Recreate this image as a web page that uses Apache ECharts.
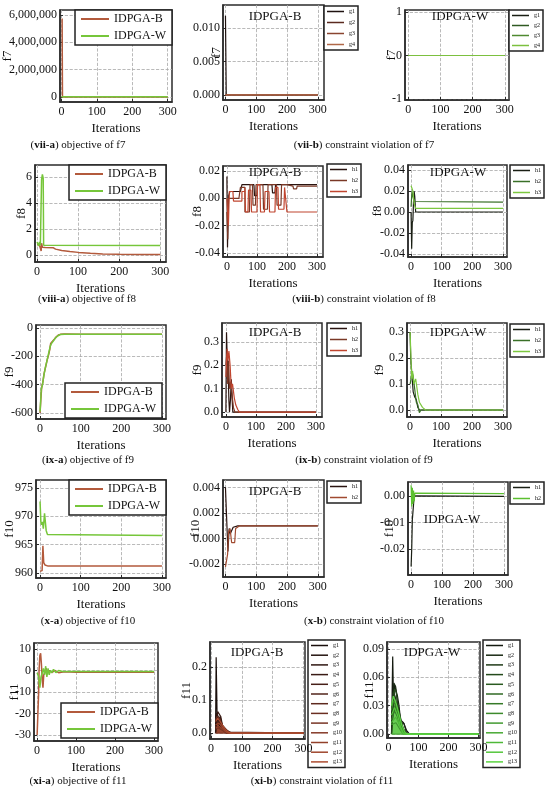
<!DOCTYPE html>
<html>
<head>
<meta charset="utf-8">
<script src="https://cdn.jsdelivr.net/npm/echarts@6/dist/echarts.min.js"></script>
<style>
html,body{margin:0;padding:0;background:#fff;}
#chart{width:550px;height:799px;}
</style>
</head>
<body>
<div id="chart"></div>
<script>
// ---- data (iteration, value) ----
var iterTicks = [0, 100, 200, 300];

// (vii) f7
var f7ObjTicks = [0, 2000000, 4000000, 6000000];
var f7ObjB = [[2, 5750000], [3, 0], [300, 0]];
var f7ObjW = [[0, 15000], [300, 15000]];
var f7VioBTicks = [0, 0.005, 0.010];
var f7VioB1 = [[0, 0.0118], [1.5, 0.0118], [2.5, 0], [300, 0]];
var f7VioB2 = [[0, 0], [300, 0]];
var f7VioB3 = [[0, 0], [300, 0]];
var f7VioB4 = [[0, 0], [300, 0]];
var f7VioWTicks = [-1, 0, 1];
var f7VioW1 = [[0, 0], [300, 0]];
var f7VioW2 = [[0, 0], [300, 0]];
var f7VioW3 = [[0, 0], [300, 0]];
var f7VioW4 = [[0, 0], [300, 0]];

// (viii) f8
var f8ObjTicks = [0, 2, 4, 6];
var f8ObjB = [[0, 0.8], [4, 0.9], [6, 0.75], [8, 0.9], [10, 0.3], [11, 0.9], [13, 0.6], [20, 0.58], [40, 0.55], [45, 0.45], [60, 0.35], [80, 0.27], [100, 0.2], [130, 0.13], [160, 0.08], [200, 0.05], [250, 0.03], [300, 0.03]];
var f8ObjW = [[0, 1.0], [4, 0.7], [6, 1.0], [8, 0.75], [10, 0.8], [11, 5.8], [13, 6.2], [15, 5.9], [16, 0.75], [18, 0.72], [300, 0.72]];
var f8VioBTicks = [-0.04, -0.02, 0, 0.02];
var f8VioB1 = [[0, 0.016], [2, -0.036], [4, -0.012], [6, 0.002], [10, 0.005], [45, 0.005], [50, 0.01], [90, 0.01], [92, 0.002], [100, 0.002], [102, 0.01], [150, 0.01], [152, 0.004], [160, 0.004], [162, 0.01], [300, 0.01]];
var f8VioB2 = [[0, -0.01], [3, -0.03], [5, 0.0], [40, 0.0], [45, 0.008], [60, -0.01], [75, -0.01], [77, 0.01], [85, 0.01], [87, -0.005], [95, -0.005], [97, 0.01], [120, 0.01], [122, -0.008], [135, -0.008], [137, 0.01], [165, 0.01], [167, -0.005], [180, -0.005], [182, 0.01], [200, 0.01], [202, 0.009], [220, 0.009], [222, 0.007], [232, 0.007], [234, 0.009], [300, 0.009]];
var f8VioB3 = [[0, 0.0], [5, -0.02], [8, 0.005], [20, 0.005], [22, -0.002], [50, 0.005], [60, 0.008], [62, -0.01], [70, -0.01], [72, 0.006], [80, 0.006], [82, -0.01], [100, -0.01], [102, 0.01], [110, 0.01], [112, -0.01], [125, -0.01], [127, 0.005], [140, 0.005], [142, -0.01], [160, -0.01], [162, 0.008], [170, 0.008], [172, -0.008], [190, -0.008], [192, 0.008], [198, 0.008], [200, -0.01], [300, -0.01]];
var f8VioWTicks = [-0.04, -0.02, 0, 0.02, 0.04];
var f8VioW1 = [[0, 0.0], [2, -0.035], [4, -0.01], [6, -0.008], [8, 0.01], [10, 0.02], [12, 0.015], [15, 0.0], [300, 0.0]];
var f8VioW2 = [[0, 0.005], [3, 0.02], [6, 0.015], [10, 0.01], [15, 0.0095], [300, 0.0095]];
var f8VioW3 = [[0, 0.025], [3, 0.026], [6, 0.02], [10, 0.008], [15, 0.0035], [300, 0.0035]];

// (ix) f9
var f9ObjTicks = [-600, -400, -200, 0];
var f9ObjB = [[0, -600], [2, -500], [4, -420], [7, -380], [10, -320], [14, -270], [18, -220], [21, -190], [24, -150], [26, -110], [30, -100], [35, -80], [40, -62], [45, -50], [50, -45], [60, -42], [100, -44], [300, -45]];
var f9ObjW = [[0, -590], [3, -430], [6, -400], [9, -340], [13, -280], [17, -230], [21, -180], [25, -130], [28, -110], [33, -90], [38, -70], [44, -55], [50, -46], [60, -44], [300, -45]];
var f9VioTicks = [0, 0.1, 0.2, 0.3];
var f9VioB1 = [[0, 0.0], [2, 0.34], [5, 0.2], [8, 0.15], [10, 0.05], [12, 0.0], [15, 0.05], [18, 0.14], [21, 0.05], [23, 0.0], [300, 0.0]];
var f9VioB2 = [[0, 0.2], [3, 0.25], [6, 0.12], [9, 0.22], [12, 0.1], [16, 0.13], [20, 0.08], [25, 0.02], [30, 0.0], [300, 0.0]];
var f9VioB3 = [[0, 0.15], [4, 0.27], [7, 0.22], [10, 0.26], [14, 0.2], [18, 0.1], [22, 0.12], [28, 0.06], [33, 0.03], [40, 0.01], [45, 0.0], [300, 0.0]];
var f9VioW1 = [[0, 0.3], [2, 0.2], [5, 0.15], [8, 0.1], [10, 0.07], [15, 0.05], [20, 0.04], [25, 0.01], [30, 0.0], [300, 0.0]];
var f9VioW2 = [[0, 0.1], [3, 0.12], [6, 0.15], [10, 0.13], [15, 0.08], [20, 0.03], [25, 0.02], [30, -0.01], [35, 0.0], [300, 0.0]];
var f9VioW3 = [[0, 0.3], [4, 0.3], [5, 0.12], [8, 0.15], [12, 0.1], [18, 0.12], [25, 0.06], [30, 0.03], [40, 0.01], [50, 0.0], [300, 0.0]];

// (x) f10
var f10ObjTicks = [960, 965, 970, 975];
var f10ObjB = [[0, 960.3], [5, 960.4], [7, 964.8], [9, 961.8], [12, 961.4], [20, 961.2], [300, 961.2]];
var f10ObjW = [[0, 972.6], [2, 969], [4, 968.5], [6, 969], [8, 967.8], [11, 970.5], [13, 970.4], [15, 967.5], [18, 966.8], [22, 966.6], [300, 966.6]];
var f10VioBTicks = [-0.002, 0, 0.002, 0.004];
var f10VioB1 = [[0, 0.004], [6, 0.004], [8, -0.001], [12, 0.0008], [16, 0.0004], [20, 0.0004], [25, 0.0009], [40, 0.001], [300, 0.001]];
var f10VioB2 = [[0, -0.0022], [5, -0.0022], [7, -0.0012], [10, 0.0005], [15, 0.0008], [20, -0.0003], [30, -0.0003], [33, 0.0008], [45, 0.001], [300, 0.001]];
var f10VioWTicks = [-0.03, -0.02, -0.01, 0];
var f10VioW1 = [[0, -0.0265], [2, -0.02], [4, -0.009], [6, -0.0085], [8, -0.003], [10, 0.0], [15, -0.0002], [300, -0.0002]];
var f10VioW2 = [[0, 0.004], [2, -0.004], [4, 0.003], [6, -0.003], [8, 0.002], [10, -0.002], [12, 0.001], [14, 0.0008], [300, 0.0008]];

// (xi) f11
var f11ObjTicks = [-30, -20, -10, 0, 10];
var f11ObjB = [[0, -30], [2, -20], [4, -10], [5, 0], [7, 7], [9, 8], [11, 3], [13, -4], [15, -8], [17, -2], [20, -1], [23, 1], [27, -1], [32, 0], [38, -1], [45, 0], [55, -1], [70, -0.6], [100, -0.8], [300, -0.8]];
var f11ObjW = [[0, -1], [4, -3], [7, -8], [10, -3], [13, -1], [16, 1], [19, -2], [22, 2], [25, -3], [28, 1], [31, -2], [34, 0], [38, -1], [42, 0.5], [48, -1], [55, 0], [65, -0.5], [300, -0.5]];
var f11VioBTicks = [0, 0.1, 0.2];
var f11VioB = [
  [[15, 0.0], [17, 0.23], [20, 0.05], [25, 0.03], [30, 0.02], [40, 0.01], [50, 0.0], [300, 0.0]],
  [[15, 0.0], [18, 0.06], [22, 0.065], [28, 0.04], [35, 0.02], [45, 0.005], [55, 0.0], [300, 0.0]],
  [[15, 0.05], [20, 0.06], [25, 0.04], [30, 0.05], [35, 0.03], [40, 0.015], [50, 0.005], [60, 0.0], [300, 0.0]],
  [[15, 0.0], [22, 0.065], [26, 0.06], [32, 0.05], [38, 0.02], [45, 0.01], [55, 0.0], [300, 0.0]],
  [[15, 0.03], [20, 0.04], [30, 0.03], [40, 0.02], [50, 0.01], [60, 0.003], [65, 0.0], [300, 0.0]],
  [[15, 0.02], [25, 0.035], [35, 0.025], [45, 0.015], [55, 0.005], [70, 0.0], [300, 0.0]],
  [[15, 0.01], [25, 0.02], [35, 0.015], [50, 0.008], [60, 0.0], [300, 0.0]],
  [[15, 0.04], [20, 0.05], [28, 0.045], [34, 0.03], [40, 0.02], [52, 0.006], [60, 0.0], [300, 0.0]],
  [[15, 0.02], [30, 0.012], [45, 0.004], [55, 0.0], [300, 0.0]],
  [[15, 0.0], [300, 0.0]],
  [[15, 0.015], [28, 0.02], [40, 0.01], [50, 0.002], [60, 0.0], [300, 0.0]],
  [[15, 0.025], [25, 0.03], [35, 0.02], [45, 0.008], [55, 0.0], [300, 0.0]],
  [[15, 0.035], [22, 0.045], [30, 0.035], [40, 0.02], [48, 0.01], [58, 0.002], [65, 0.0], [300, 0.0]]
];
var f11VioWTicks = [0, 0.03, 0.06, 0.09];
var f11VioW = [
  [[10, 0.0], [14, 0.082], [17, 0.03], [20, 0.052], [25, 0.05], [30, 0.04], [35, 0.03], [40, 0.015], [50, 0.012], [55, 0.01], [60, 0.004], [70, 0.0], [300, 0.0]],
  [[10, 0.0], [18, 0.054], [24, 0.05], [30, 0.032], [36, 0.03], [42, 0.012], [52, 0.011], [58, 0.003], [65, 0.0], [300, 0.0]],
  [[10, 0.02], [16, 0.045], [22, 0.04], [28, 0.03], [34, 0.025], [40, 0.01], [50, 0.005], [60, 0.0], [300, 0.0]],
  [[10, 0.0], [20, 0.048], [26, 0.044], [32, 0.03], [38, 0.02], [46, 0.01], [55, 0.0], [300, 0.0]],
  [[10, 0.03], [18, 0.035], [28, 0.028], [38, 0.015], [48, 0.006], [58, 0.0], [300, 0.0]],
  [[10, 0.01], [22, 0.03], [32, 0.02], [42, 0.01], [52, 0.004], [62, 0.0], [300, 0.0]],
  [[10, 0.015], [20, 0.025], [30, 0.018], [40, 0.008], [50, 0.0], [300, 0.0]],
  [[10, 0.025], [16, 0.035], [24, 0.032], [32, 0.022], [40, 0.012], [50, 0.003], [58, 0.0], [300, 0.0]],
  [[10, 0.01], [25, 0.012], [40, 0.004], [50, 0.0], [300, 0.0]],
  [[10, 0.0], [300, 0.0]],
  [[10, 0.012], [24, 0.018], [36, 0.01], [46, 0.002], [55, 0.0], [300, 0.0]],
  [[10, 0.02], [20, 0.028], [30, 0.02], [40, 0.008], [50, 0.0], [300, 0.0]],
  [[10, 0.03], [16, 0.04], [26, 0.032], [36, 0.02], [44, 0.01], [54, 0.002], [62, 0.0], [300, 0.0]]
];

// ---- styling ----
var FONT = '"Liberation Serif", "DejaVu Serif", serif';
var C_B = '#b35a3c', C_W = '#76c63a';
var B4 = ['#1e1210', '#5a2a1f', '#8a4530', '#b06848'];
var W4 = ['#1a1f14', '#2f5a22', '#4f8a30', '#7cc03f'];
var BH = ['#2a1410', '#7a3826', '#c0452f'];
var WH = ['#1a1f14', '#3a7028', '#7cc83f'];
var B13 = ['#1a0f0c', '#24130f', '#2f1712', '#3a1b15', '#461f18', '#52241b', '#5e291e', '#6b2e21', '#783424', '#853a27', '#92402a', '#9f462d', '#ad4c30'];
var W13 = ['#141a10', '#1a2a14', '#1f3a18', '#244a1c', '#2a5a20', '#306a24', '#367a28', '#3c8a2c', '#429a30', '#48a934', '#4eb838', '#54c63c', '#5ad440'];
var AREA_B11 = [0, 0, 0.8, 0, 0, 0, 0, 0.6, 0, 0, 0, 0, 0.7];
var AREA_W11 = [0, 0, 0, 0, 0, 0, 0, 0.6, 0, 0, 0, 0, 0.7];

function fixed(d) { return function (v) { return v.toFixed(d); }; }
function comma(v) { return String(Math.round(v)).replace(/\B(?=(\d{3})+(?!\d))/g, ','); }
function short(n) { return n.split(' ')[1]; }

var option = {
  animation: false, backgroundColor: '#fff',
  grid: [], xAxis: [], yAxis: [], series: [], legend: [], graphic: []
};

function addPanel(p) {
  var i = option.grid.length;
  option.grid.push({
    left: p.box[0], top: p.box[1], width: p.box[2], height: p.box[3],
    show: true, borderColor: '#2b2b2b', borderWidth: 1.5, backgroundColor: '#fff',
    containLabel: false, outerBoundsMode: 'none'
  });
  option.xAxis.push({
    gridIndex: i, type: 'value', min: p.x[0], max: p.x[1],
    name: 'Iterations', nameLocation: 'middle', nameGap: 20, nameMoveOverlap: false,
    nameTextStyle: { fontFamily: FONT, fontSize: 13, color: '#111' },
    axisLine: { show: true, onZero: false, lineStyle: { color: '#2b2b2b', width: 1.5 } },
    axisTick: { show: true, inside: true, length: 3, customValues: iterTicks, lineStyle: { color: '#2b2b2b' } },
    axisLabel: { customValues: iterTicks, margin: 4, fontFamily: FONT, fontSize: 12, color: '#111' },
    splitLine: { show: true, customValues: iterTicks, lineStyle: { type: 'dashed', color: '#a8a8a8', width: 0.8 } }
  });
  option.yAxis.push({
    gridIndex: i, type: 'value', min: p.y[0], max: p.y[1],
    name: p.yName, nameLocation: 'middle', nameGap: p.yGap, nameRotate: 90, nameMoveOverlap: false,
    nameTextStyle: { fontFamily: FONT, fontSize: 13, color: '#111' },
    axisLine: { show: true, onZero: false, lineStyle: { color: '#2b2b2b', width: 1.5 } },
    axisTick: { show: true, inside: true, length: 3, customValues: p.ticks, lineStyle: { color: '#2b2b2b' } },
    axisLabel: { customValues: p.ticks, formatter: p.fmt, margin: 3, fontFamily: FONT, fontSize: 12, color: '#111' },
    splitLine: { show: true, customValues: p.ticks, lineStyle: { type: 'dashed', color: '#a8a8a8', width: 0.8 } }
  });
  p.lines.forEach(function (s) {
    var ser = {
      type: 'line', name: s[0], data: s[1], xAxisIndex: i, yAxisIndex: i,
      symbol: 'none', silent: true, clip: true, color: s[2],
      step: p.step ? 'end' : false,
      lineStyle: { width: p.lw || 1.2, color: s[2] }
    };
    if (s[3]) ser.areaStyle = { color: s[2], opacity: s[3] };
    option.series.push(ser);
  });
  if (p.legend) {
    var lg = p.legend, L;
    if (lg.obj) {
      L = {
        data: ['IDPGA-B', 'IDPGA-W'], orient: 'vertical', icon: 'rect',
        itemWidth: 28, itemHeight: 2, itemGap: 5, padding: [3, 6, 3, 6],
        textStyle: { fontFamily: FONT, fontSize: 12, color: '#111' }
      };
    } else {
      L = {
        data: p.lines.map(function (s) { return s[0]; }), orient: 'vertical', icon: 'rect',
        itemWidth: 17, itemHeight: 1.5, itemGap: lg.gap, padding: [2, 3, 2, 3],
        formatter: short,
        textStyle: { fontFamily: FONT, fontSize: 6, color: '#111', lineHeight: 7 }
      };
    }
    ['left', 'right', 'top', 'bottom'].forEach(function (k) { if (lg[k] != null) L[k] = lg[k]; });
    L.borderColor = '#222'; L.borderWidth = 1.5; L.backgroundColor = '#fff';
    L.selectedMode = false;
    if (lg.z != null) L.z = lg.z;
    option.legend.push(L);
  }
  if (p.title) {
    option.graphic.push({
      type: 'text', x: p.title[1], y: p.title[2], z: 10,
      style: { text: p.title[0], fontFamily: FONT, fontSize: 13, fill: '#111',
        align: 'center', verticalAlign: 'middle', textAlign: 'center', textVerticalAlign: 'middle' }
    });
  }
}

function caption(tag, rest, x, y) {
  option.graphic.push({
    type: 'text', x: x, y: y,
    style: {
      text: '({b|' + tag + '}) ' + rest, fontFamily: FONT, fontSize: 11, fill: '#111',
      align: 'center', verticalAlign: 'middle', textAlign: 'center', textVerticalAlign: 'middle',
      rich: { b: { fontWeight: 'bold', fontFamily: FONT, fontSize: 11, fill: '#111' } }
    }
  });
}

function named(prefix, kind, arrs, colors, area) {
  return arrs.map(function (d, k) {
    return [prefix + ' ' + kind + (k + 1), d, colors[k], area ? area[k] : 0];
  });
}

// row vii
addPanel({ box: [60, 10, 112, 92], x: [-4, 312], y: [-366000, 6366000], ticks: f7ObjTicks, fmt: comma, yName: 'f7', yGap: 46, lw: 1.5,
  lines: [['IDPGA-B', f7ObjB, C_B], ['IDPGA-W', f7ObjW, C_W]], legend: { obj: true, right: 378, top: 10 } });
addPanel({ box: [223, 5, 101, 95], x: [-8, 320], y: [-0.00075, 0.0134], ticks: f7VioBTicks, fmt: fixed(3), yName: 'f7', yGap: 0,
  lines: named('B7', 'g', [f7VioB1, f7VioB2, f7VioB3, f7VioB4], B4), legend: { left: 324, top: 6, gap: 4 }, title: ['IDPGA-B', 275, 17] });
addPanel({ box: [405, 10, 104, 90], x: [-10, 313], y: [-1.023, 1.046], ticks: f7VioWTicks, fmt: fixed(0), yName: 'f7', yGap: 7,
  lines: named('W7', 'g', [f7VioW1, f7VioW2, f7VioW3, f7VioW4], W4), legend: { left: 509, top: 10, gap: 3 }, title: ['IDPGA-W', 460, 17] });

// row viii
addPanel({ box: [35, 165, 131, 97], x: [-5, 314], y: [-0.54, 6.92], ticks: f8ObjTicks, fmt: fixed(0), yName: 'f8', yGap: 7, lw: 1.5,
  lines: [['IDPGA-B', f8ObjB, C_B], ['IDPGA-W', f8ObjW, C_W]], legend: { obj: true, right: 384, top: 165 } });
addPanel({ box: [223, 166, 100, 91], x: [-13, 320], y: [-0.043, 0.0237], ticks: f8VioBTicks, fmt: fixed(2), yName: 'f8', yGap: 19, step: true,
  lines: named('B8', 'h', [f8VioB1, f8VioB2, f8VioB3], BH), legend: { left: 327, top: 164, gap: 4 }, title: ['IDPGA-B', 275, 173] });
addPanel({ box: [408, 165, 99, 92], x: [-10, 313], y: [-0.0429, 0.0448], ticks: f8VioWTicks, fmt: fixed(2), yName: 'f8', yGap: 24,
  lines: named('W8', 'h', [f8VioW1, f8VioW2, f8VioW3], WH), legend: { left: 510, top: 165, gap: 4 }, title: ['IDPGA-W', 458, 173] });

// row ix
addPanel({ box: [36, 325, 130, 94], x: [-10, 310], y: [-642, 21], ticks: f9ObjTicks, fmt: fixed(0), yName: 'f9', yGap: 20, lw: 1.5,
  lines: [['IDPGA-B', f9ObjB, C_B], ['IDPGA-W', f9ObjW, C_W]], legend: { obj: true, right: 388, bottom: 381 } });
addPanel({ box: [222, 323, 100, 94], x: [-13, 320], y: [-0.021, 0.38], ticks: f9VioTicks, fmt: fixed(1), yName: 'f9', yGap: 18,
  lines: named('B9', 'h', [f9VioB1, f9VioB2, f9VioB3], BH), legend: { left: 327, top: 323, gap: 4 }, title: ['IDPGA-B', 275, 333] });
addPanel({ box: [407, 323, 100, 94], x: [-10, 313], y: [-0.027, 0.335], ticks: f9VioTicks, fmt: fixed(1), yName: 'f9', yGap: 21,
  lines: named('W9', 'h', [f9VioW1, f9VioW2, f9VioW3], WH), legend: { left: 510, top: 324, gap: 4 }, title: ['IDPGA-W', 458, 333] });

// row x
addPanel({ box: [36, 480, 130, 98], x: [-10, 310], y: [959.1, 976.4], ticks: f10ObjTicks, fmt: fixed(0), yName: 'f10', yGap: 20, lw: 1.5,
  lines: [['IDPGA-B', f10ObjB, C_B], ['IDPGA-W', f10ObjW, C_W]], legend: { obj: true, right: 384, top: 480 } });
addPanel({ box: [223, 480, 101, 97], x: [-8, 320], y: [-0.003, 0.0046], ticks: f10VioBTicks, fmt: fixed(3), yName: 'f10', yGap: 21,
  lines: named('B10', 'h', [f10VioB1, f10VioB2], [BH[0], '#a04a30']), legend: { left: 327, top: 481, gap: 4 }, title: ['IDPGA-B', 275, 492] });
addPanel({ box: [408, 482, 100, 93], x: [-10, 313], y: [-0.0297, 0.0052], ticks: f10VioWTicks, fmt: fixed(2), yName: 'f10', yGap: 12,
  lines: named('W10', 'h', [f10VioW1, f10VioW2], [WH[0], '#5cc030']), legend: { left: 510, top: 482, gap: 4 }, title: ['IDPGA-W', 452, 520] });

// row xi
addPanel({ box: [34, 643, 124, 98], x: [-8, 310], y: [-32.8, 12.8], ticks: f11ObjTicks, fmt: fixed(0), yName: 'f11', yGap: 13, lw: 1.5,
  lines: [['IDPGA-B', f11ObjB, C_B], ['IDPGA-W', f11ObjW, C_W]], legend: { obj: true, right: 392, bottom: 61 } });
addPanel({ box: [210, 642, 95, 97], x: [-3, 305], y: [-0.018, 0.276], ticks: f11VioBTicks, fmt: fixed(1), yName: 'f11', yGap: 17,
  lines: named('B11', 'g', f11VioB, B13, AREA_B11), legend: { left: 308, top: 640, gap: 2.7, z: -1 }, title: ['IDPGA-B', 257, 653] });
addPanel({ box: [387, 642, 93, 96], x: [-5, 305], y: [-0.0042, 0.0974], ticks: f11VioWTicks, fmt: fixed(2), yName: 'f11', yGap: 11,
  lines: named('W11', 'g', f11VioW, W13, AREA_W11), legend: { left: 483, top: 640, gap: 2.7, z: -1 }, title: ['IDPGA-W', 432, 653] });

// captions
caption('vii-a', 'objective of f7', 78, 145);
caption('vii-b', 'constraint violation of f7', 364, 145);
caption('viii-a', 'objective of f8', 87, 299);
caption('viii-b', 'constraint violation of f8', 364, 299);
caption('ix-a', 'objective of f9', 88, 460);
caption('ix-b', 'constraint violation of f9', 364, 460);
caption('x-a', 'objective of f10', 88, 621);
caption('x-b', 'constraint violation of f10', 374, 621);
caption('xi-a', 'objective of f11', 78, 781);
caption('xi-b', 'constraint violation of f11', 322, 781);

var chart = echarts.init(document.getElementById('chart'), null, { renderer: 'canvas' });
chart.setOption(option);
</script>
</body>
</html>
